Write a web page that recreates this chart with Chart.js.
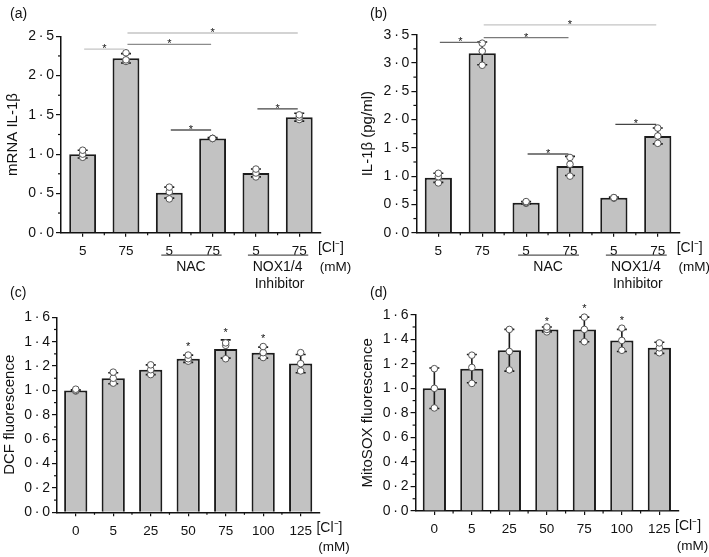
<!DOCTYPE html>
<html><head><meta charset="utf-8">
<script src="https://cdn.jsdelivr.net/npm/chart.js@4.4.1/dist/chart.umd.min.js"></script>
<style>
html,body{margin:0;padding:0;background:#fff;}
#wrap{position:relative;width:709px;height:557px;overflow:hidden;background:#fff;}
canvas{position:absolute;left:0;top:0;}
</style></head><body>
<div id="wrap">
<canvas id="ca" width="709" height="557"></canvas>
<canvas id="cb" width="709" height="557"></canvas>
<canvas id="cc" width="709" height="557"></canvas>
<canvas id="cd" width="709" height="557"></canvas>
</div>
<script>
// ---------- data ----------
const catsAB = ['5', '75', '5', '75', '5', '75'];
const catsCD = ['0', '5', '25', '50', '75', '100', '125'];

const meanA = [1.00, 2.22, 0.51, 1.20, 0.76, 1.47];
const sdA   = [0.05, 0.06, 0.07, 0.01, 0.05, 0.05];
const repA1 = [1.05, 2.29, 0.58, 1.20, 0.81, 1.50];
const repA2 = [1.00, 2.20, 0.52, 1.20, 0.76, 1.47];
const repA3 = [0.96, 2.18, 0.43, 1.20, 0.71, 1.44];

const meanB = [0.97, 3.17, 0.53, 1.18, 0.62, 1.71];
const sdB   = [0.08, 0.20, 0.02, 0.17, 0.01, 0.14];
const repB1 = [1.05, 3.35, 0.55, 1.33, 0.62, 1.85];
const repB2 = [0.99, 3.21, 0.53, 1.21, 0.62, 1.71];
const repB3 = [0.88, 2.96, 0.52, 1.00, 0.61, 1.58];

const meanC = [1.00, 1.10, 1.17, 1.26, 1.34, 1.31, 1.22];
const sdC   = [0.006, 0.045, 0.04, 0.03, 0.075, 0.045, 0.075];
const repC1 = [1.01, 1.15, 1.21, 1.29, 1.39, 1.36, 1.31];
const repC2 = [1.00, 1.10, 1.17, 1.26, 1.37, 1.31, 1.22];
const repC3 = [0.995, 1.06, 1.13, 1.24, 1.26, 1.27, 1.16];

const meanD = [1.00, 1.16, 1.31, 1.48, 1.48, 1.39, 1.33];
const sdD   = [0.165, 0.115, 0.17, 0.02, 0.10, 0.09, 0.045];
const repD1 = [1.16, 1.27, 1.48, 1.50, 1.58, 1.49, 1.37];
const repD2 = [1.00, 1.17, 1.30, 1.48, 1.48, 1.39, 1.33];
const repD3 = [0.84, 1.04, 1.15, 1.46, 1.38, 1.31, 1.29];

// significance brackets: [from category, to category, level]
const sigA = [[0, 1, 2.338], [1, 3, 2.398], [1, 5, 2.542], [2, 3, 1.307], [4, 5, 1.575]];
const sigB = [[0, 1, 3.366], [1, 3, 3.447], [1, 5, 3.672], [2, 3, 1.391], [4, 5, 1.916]];
// single-column stars (level of the star)
const starC = [null, null, null, 1.378, 1.496, 1.448, null];
const starD = [null, null, null, 1.562, 1.671, 1.571, null];

const groupsAB = [[2, 3, ['NAC']], [4, 5, ['NOX1/4', 'Inhibitor']]];

// ---------- drawing ----------
Chart.defaults.font.family = "'Liberation Sans', Arial, Helvetica, sans-serif";
Chart.defaults.font.size = 13;
Chart.defaults.color = '#111';

const FONT = "'Liberation Sans', Arial, Helvetica, sans-serif";

function fmt(v) { return v.toFixed(1).replace('.', '\u2009·\u2009'); }

function annot(o) {
  return {
    id: 'annot',
    afterDatasetDraw(chart, args) {
      if (args.index !== 0) return;
      const c = chart.ctx, ys = chart.scales.y, meta = args.meta;
      c.save();
      c.strokeStyle = '#1a1a1a';
      c.lineWidth = 1.6;
      o.mean.forEach((m, i) => {
        const x = meta.data[i].x;
        const yt = ys.getPixelForValue(m + o.sd[i]);
        const yb = ys.getPixelForValue(m - o.sd[i]);
        c.beginPath();
        c.moveTo(x, yt); c.lineTo(x, yb);
        c.moveTo(x - 5, yt); c.lineTo(x + 5, yt);
        c.moveTo(x - 5, yb); c.lineTo(x + 5, yb);
        c.stroke();
      });
      c.restore();
    },
    afterDraw(chart) {
      const c = chart.ctx, xs = chart.scales.x, ys = chart.scales.y, ca = chart.chartArea;
      c.save();
      // minor y ticks
      c.strokeStyle = '#111';
      c.lineWidth = 1.2;
      for (let k = 0; k < Math.round(o.max / o.step); k++) {
        const py = ys.getPixelForValue(o.step * k + o.step / 2);
        c.beginPath(); c.moveTo(ca.left - 3, py); c.lineTo(ca.left, py); c.stroke();
      }
      // minor x ticks at category boundaries
      for (let k = 1; k < o.labels.length; k++) {
        const px = xs.getPixelForValue(k - 0.5);
        c.beginPath(); c.moveTo(px, ca.bottom); c.lineTo(px, ca.bottom + 2.5); c.stroke();
      }
      // panel letter
      c.fillStyle = '#111';
      c.font = '14px ' + FONT;
      c.textAlign = 'left'; c.textBaseline = 'middle';
      c.fillText(o.letter, o.letterX, o.letterY);
      // unit labels
      c.textAlign = 'center';
      c.font = '14px ' + FONT;
      c.fillText('[Cl\u207B]', ca.right + 10, ca.bottom + 15.5);
      c.font = '13.5px ' + FONT;
      c.fillText('(mM)', ca.right + 14.5, ca.bottom + 35);
      // groups
      if (o.groups) {
        c.font = '14px ' + FONT;
        o.groups.forEach(g => {
          const x1 = xs.getPixelForValue(g[0]) - 8, x2 = xs.getPixelForValue(g[1]) + 9;
          c.strokeStyle = '#555'; c.lineWidth = 1.2;
          c.beginPath(); c.moveTo(x1, ca.bottom + 22.5); c.lineTo(x2, ca.bottom + 22.5); c.stroke();
          const xm = (xs.getPixelForValue(g[0]) + xs.getPixelForValue(g[1])) / 2;
          g[2].forEach((t, j) => {
            c.fillStyle = '#111';
            c.fillText(t, xm + j * 2, ca.bottom + 34.5 + j * 16.5);
          });
        });
      }
      // significance brackets
      if (o.sig) {
        o.sig.forEach((s, i) => {
          const x1 = xs.getPixelForValue(s[0]) + 1.5, x2 = xs.getPixelForValue(s[1]) - 1.5;
          const py = ys.getPixelForValue(s[2]);
          c.strokeStyle = o.sigColors[i]; c.lineWidth = 1.3;
          c.beginPath(); c.moveTo(x1, py); c.lineTo(x2, py); c.stroke();
          c.fillStyle = '#111';
          c.font = '11px ' + FONT;
          c.textBaseline = 'alphabetic';
          c.fillText('*', (x1 + x2) / 2, py + 3);
        });
      }
      if (o.stars) {
        c.fillStyle = '#111';
        c.font = '11px ' + FONT;
        c.textBaseline = 'alphabetic';
        o.stars.forEach((s, i) => {
          if (s == null) return;
          c.fillText('*', xs.getPixelForValue(i), ys.getPixelForValue(s) + 6);
        });
      }
      c.restore();
    }
  };
}

function panel(id, o) {
  const reps = o.reps.map(r => ({
    type: 'line', data: r, showLine: false, pointRadius: 3.3,
    pointBackgroundColor: '#fff', pointBorderColor: '#555', pointBorderWidth: 1,
    order: 1, clip: false
  }));
  new Chart(document.getElementById(id), {
    type: 'bar',
    data: {
      labels: o.labels,
      datasets: [{
        type: 'bar', data: o.mean, backgroundColor: '#c2c2c2', borderColor: '#1c1c1c',
        borderWidth: 2, barPercentage: 0.62, categoryPercentage: 1, order: 3
      }].concat(reps)
    },
    options: {
      responsive: false, animation: false, devicePixelRatio: 1, events: [],
      layout: { padding: o.pad },
      plugins: { legend: { display: false }, tooltip: { enabled: false } },
      scales: {
        x: {
          offset: true,
          grid: { display: true, drawOnChartArea: false, offset: false, tickLength: 4, color: '#111', lineWidth: 1.2 },
          border: { display: true, color: '#111', width: 1.5 },
          ticks: { padding: 6.5, color: '#111', font: { size: 13.5 }, maxRotation: 0, autoSkip: false },
          afterFit(s) { s.height = 30; }
        },
        y: {
          min: 0, max: o.max,
          ticks: { stepSize: o.step, padding: 2, color: '#111', font: { size: 14 }, callback: v => fmt(v) },
          grid: { drawOnChartArea: false, tickLength: 5, color: '#111', lineWidth: 1.2 },
          border: { display: true, color: '#111', width: 1.5 },
          title: { display: true, text: o.ytitle, padding: { top: o.tpad, bottom: 0 }, color: '#111', font: { size: 15 } },
          afterFit(s) { s.width = o.yw; }
        }
      }
    },
    plugins: [annot(o)]
  });
}

panel('ca', {
  labels: catsAB, mean: meanA, sd: sdA, reps: [repA1, repA2, repA3], max: 2.5, step: 0.5,
  ytitle: 'mRNA IL-1\u03B2', yw: 60, tpad: 3.3,
  pad: { left: 1, right: 388.1, top: 36.3, bottom: 294.3 },
  letter: '(a)', letterX: 10, letterY: 14,
  sig: sigA, sigColors: ['#c4c4c4', '#8c8c8c', '#c4c4c4', '#555', '#444'],
  groups: groupsAB
});
panel('cb', {
  labels: catsAB, mean: meanB, sd: sdB, reps: [repB1, repB2, repB3], max: 3.5, step: 0.5,
  ytitle: 'IL-1\u03B2 (pg/ml)', yw: 60, tpad: 2.3,
  pad: { left: 356.4, right: 29.3, top: 34.7, bottom: 294.3 },
  letter: '(b)', letterX: 370, letterY: 14,
  sig: sigB, sigColors: ['#666', '#7a7a7a', '#c4c4c4', '#555', '#444'],
  groups: groupsAB
});
panel('cc', {
  labels: catsCD, mean: meanC, sd: sdC, reps: [repC1, repC2, repC3], max: 1.6, step: 0.2,
  ytitle: 'DCF fluorescence', yw: 56, tpad: 0,
  pad: { left: 1, right: 389.6, top: 317.3, bottom: 14.7 },
  letter: '(c)', letterX: 10, letterY: 293,
  stars: starC
});
panel('cd', {
  labels: catsCD, mean: meanD, sd: sdD, reps: [repD1, repD2, repD3], max: 1.6, step: 0.2,
  ytitle: 'MitoSOX fluorescence', yw: 60, tpad: 3.1,
  pad: { left: 355.6, right: 30.9, top: 314.7, bottom: 16 },
  letter: '(d)', letterX: 370, letterY: 293,
  stars: starD
});
</script>
</body></html>
